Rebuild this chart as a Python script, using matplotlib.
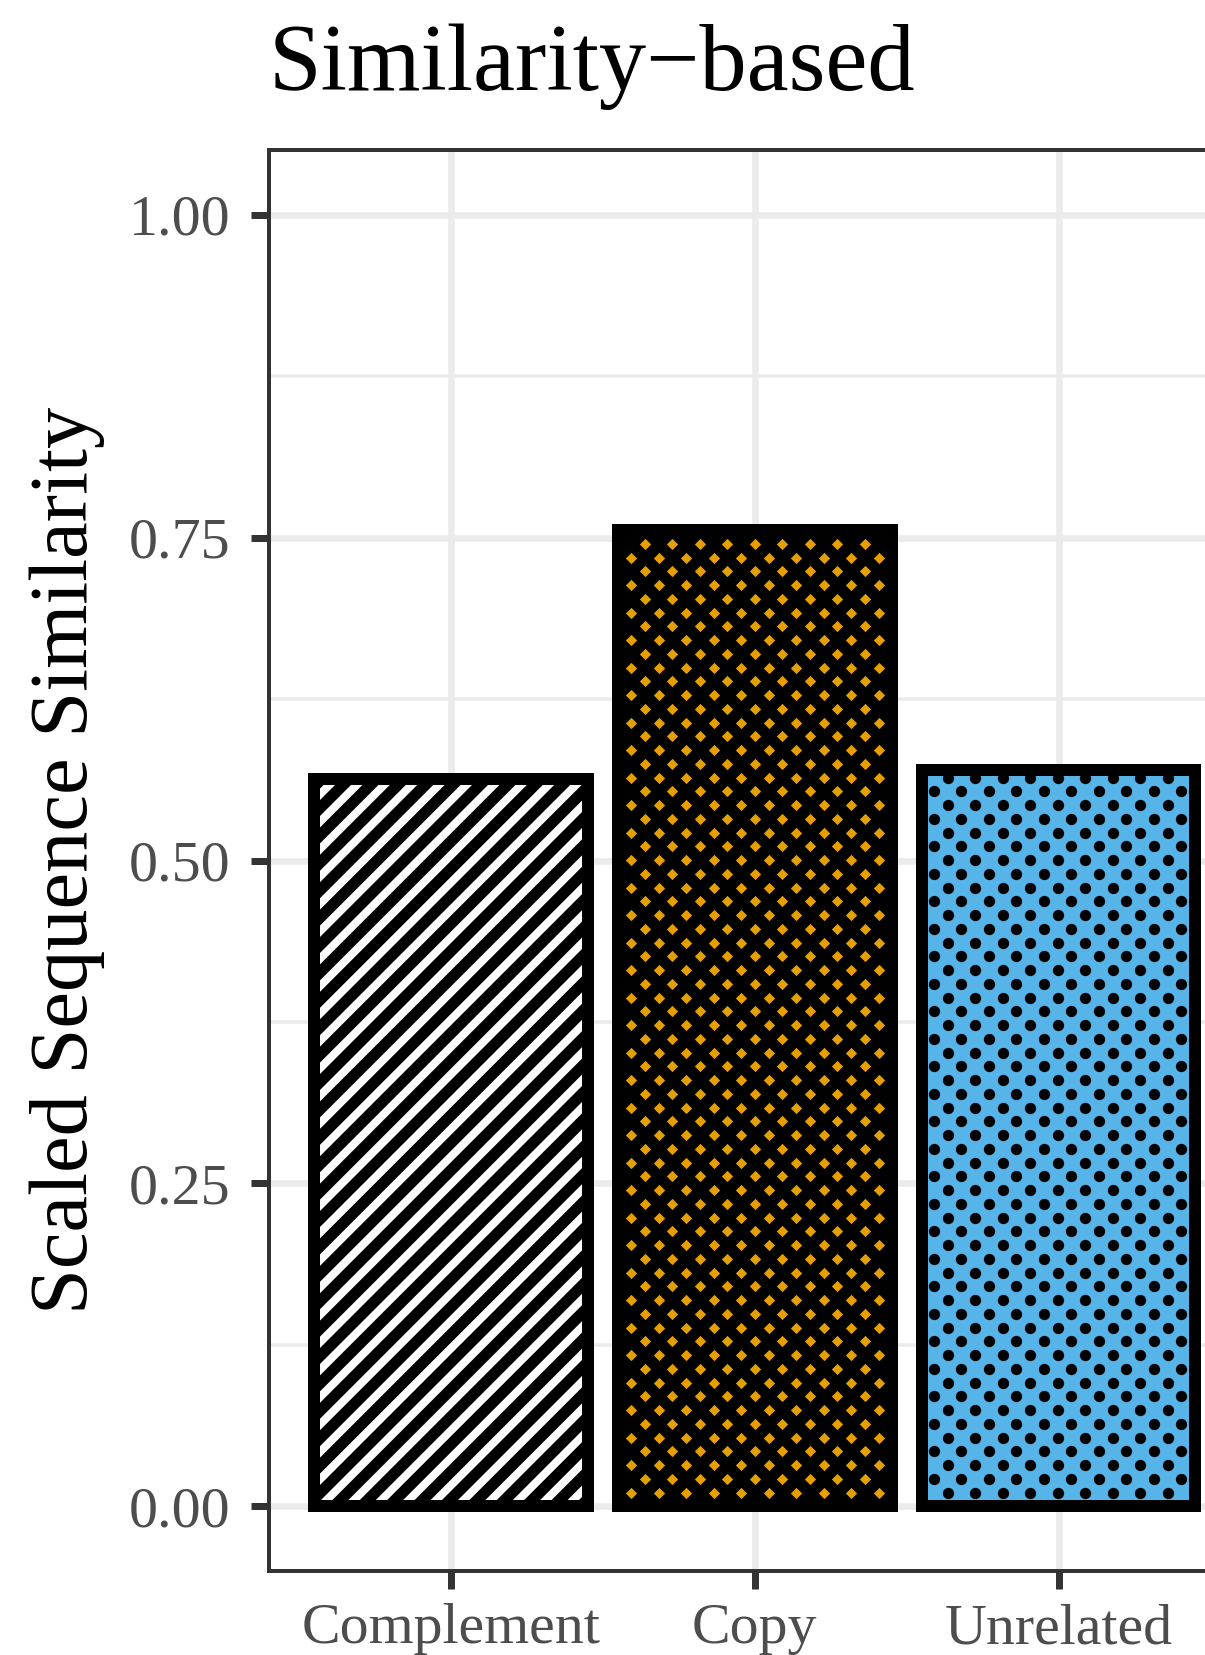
import numpy as np
import matplotlib
matplotlib.use("Agg")
import matplotlib.pyplot as plt
from matplotlib.collections import LineCollection
from matplotlib.transforms import IdentityTransform
from matplotlib.ticker import FixedLocator

# ---- data -------------------------------------------------------------
categories = ["Complement", "Copy", "Unrelated"]
similarity = [0.563, 0.756, 0.570]
fill_colors = ["#FFFFFF", "#000000", "#56B4E9"]
pattern_kinds = ["stripes", "diamonds", "dots"]
y_ticks = [0.00, 0.25, 0.50, 0.75, 1.00]
y_tick_labels = ["0.00", "0.25", "0.50", "0.75", "1.00"]
y_minor_ticks = [0.125, 0.375, 0.625, 0.875]
title_text = "Similarity\u2212based"
y_label = "Scaled Sequence Similarity"

# ---- figure setup -----------------------------------------------------
DPI = 300
W, H = 1205, 1655


def pt(px):
    """Convert a length in output pixels to points."""
    return px * 72.0 / DPI


plt.rcParams["font.family"] = ["Liberation Serif", "DejaVu Serif"]

fig = plt.figure(figsize=(W / DPI, H / DPI), dpi=DPI)
fig.patch.set_facecolor("white")
ax = fig.add_axes([268.5 / W, 1 - 1571 / H, 972.5 / W, 1421 / H])

x = np.arange(1, len(categories) + 1)
ax.set_xlim(0.4, len(categories) + 0.6)
ax.set_ylim(-0.05, 1.05)
ax.set_xticks(x, categories)
ax.set_yticks(y_ticks, y_tick_labels)
ax.yaxis.set_minor_locator(FixedLocator(y_minor_ticks))

grid_col = "#EBEBEB"
ax.grid(which="major", color=grid_col, linewidth=pt(6.5))
ax.grid(which="minor", axis="y", color=grid_col, linewidth=pt(3.5))
ax.set_axisbelow(True)

ax.tick_params(which="minor", length=0)
ax.tick_params(which="major", length=pt(18), width=pt(7), color="#333333",
               labelcolor="#4D4D4D", labelsize=13.9)
ax.tick_params(axis="y", pad=pt(20))
ax.tick_params(axis="x", pad=pt(14))
for s in ax.spines.values():
    s.set_color("#333333")
    s.set_linewidth(pt(4))
    s.set_zorder(6)

# ---- bars -------------------------------------------------------------
fills = ax.bar(x, similarity, width=0.9, color=fill_colors, linewidth=0, zorder=2)
ax.bar(x, similarity, width=0.9, fill=False, edgecolor="black",
       linewidth=pt(12), joinstyle="miter", zorder=5)

# ---- pattern fills (drawn in pixel space, clipped to each bar) ----------
ident = IdentityTransform()
zero_px = ax.transData.transform((0, 0))[1]
dx, dy = 27.5, 13.75
diamond = [(0, 1), (1, 0), (0, -1), (-1, 0), (0, 1)]


def lattice(x0, x1, y0, y1, x_off):
    xs, ys = [], []
    r_lo = int(np.floor((y0 - zero_px) / dy)) - 1
    r_hi = int(np.ceil((y1 - zero_px) / dy)) + 1
    for r in range(r_lo, r_hi + 1):
        yy = zero_px + r * dy
        shift = x_off + (0 if r % 2 == 0 else dy)
        for j in range(-2, int((x1 - x0) / dx) + 3):
            xs.append(x0 + shift + j * dx)
            ys.append(yy)
    return xs, ys


for patch, kind in zip(fills.patches, pattern_kinds):
    (x0, y0), (x1, y1) = ax.transData.transform(patch.get_bbox().get_points())
    if kind == "stripes":
        period = 27.4
        c0 = zero_px - (x0 + 19.9)
        k_lo = int(np.floor((y0 - x1 - c0) / period)) - 2
        k_hi = int(np.ceil((y1 - x0 - c0) / period)) + 2
        segs = []
        for k in range(k_lo, k_hi + 1):
            c = c0 + k * period
            segs.append([(x0 - 30, x0 - 30 + c), (x1 + 30, x1 + 30 + c)])
        lc = LineCollection(segs, colors="black", linewidths=pt(11.3),
                            transform=ident, zorder=3, capstyle="butt")
        ax.add_collection(lc, autolim=False)
        lc.set_clip_path(patch)
    elif kind == "diamonds":
        xs, ys = lattice(x0, x1, y0, y1, -0.5)
        ln, = ax.plot(xs, ys, linestyle="none", marker=diamond,
                      markersize=pt(11.3), color="#E69F00",
                      markeredgewidth=0, transform=ident, zorder=3)
        ln.set_clip_path(patch)
    else:
        xs, ys = lattice(x0, x1, y0, y1, 11.9)
        ln, = ax.plot(xs, ys, linestyle="none", marker="o",
                      markersize=pt(11.3), color="black",
                      markeredgewidth=0, transform=ident, zorder=3)
        ln.set_clip_path(patch)

# ---- text -------------------------------------------------------------
ax.set_title(title_text, loc="left", fontsize=22.7, pad=pt(59.5), color="black")
ax.set_ylabel(y_label, fontsize=19.8, color="black")
ax.yaxis.set_label_coords((105 - 268.5) / 972.5, 0.5)

fig.savefig("out.png", dpi=DPI)
